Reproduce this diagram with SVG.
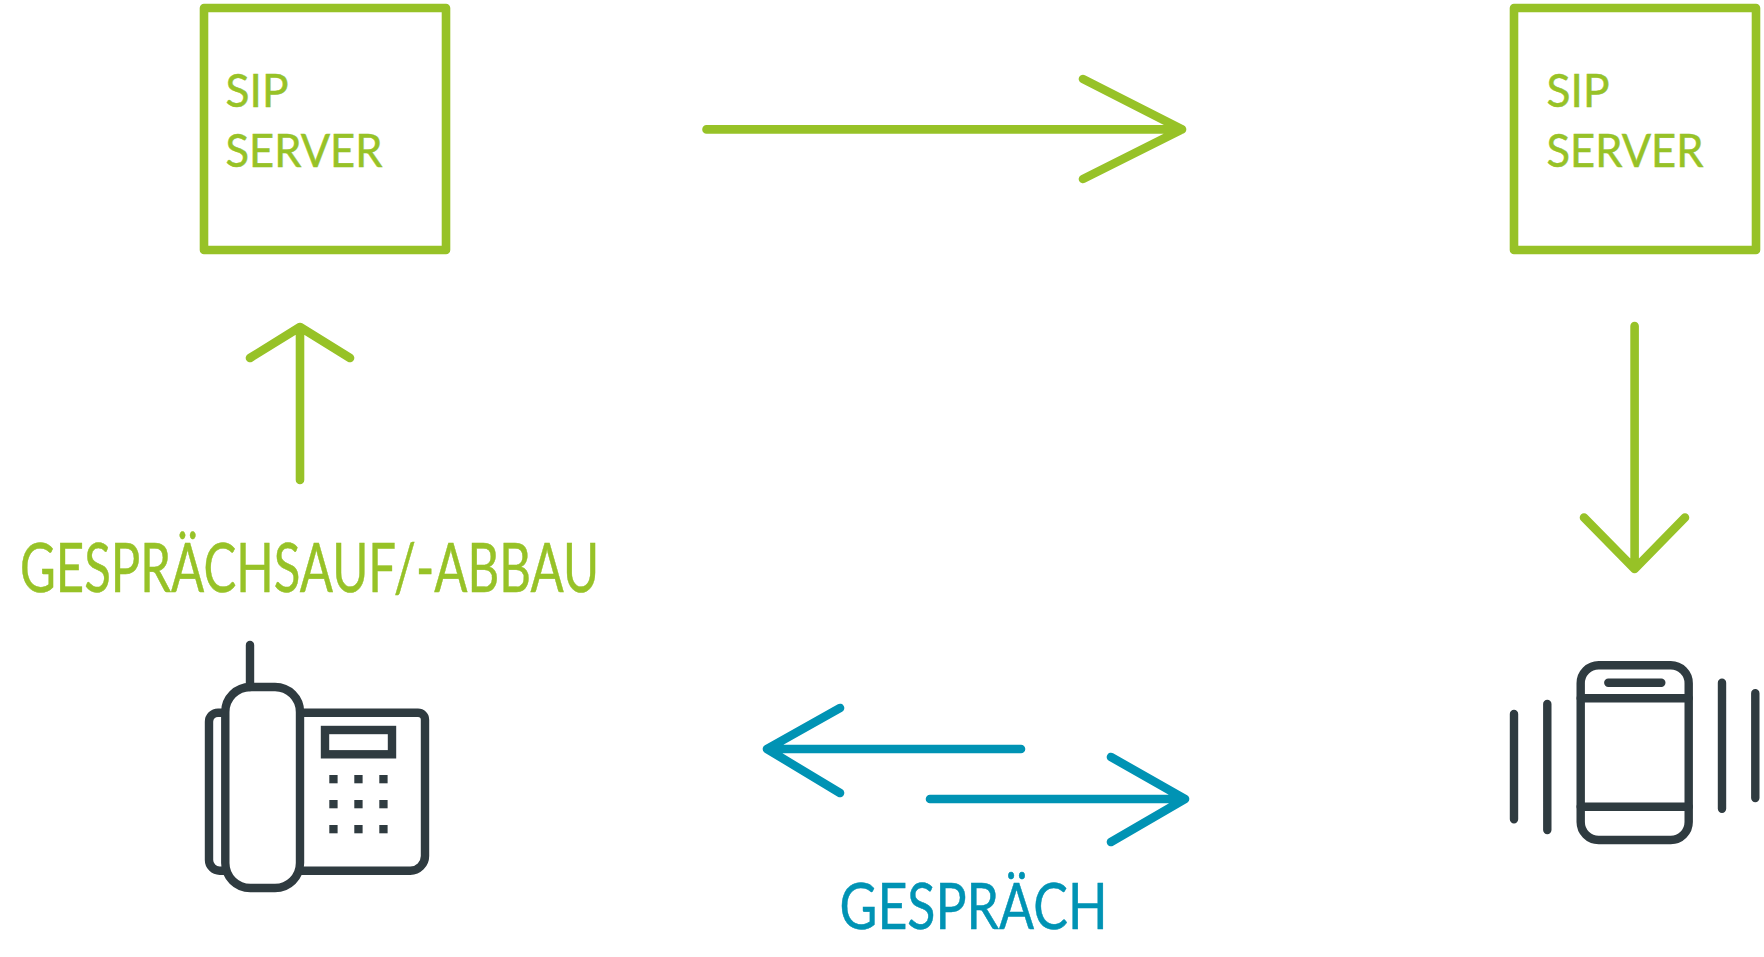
<svg xmlns="http://www.w3.org/2000/svg" width="1764" height="957" viewBox="0 0 1764 957">
<style>
.bg{fill:#fff}
.g{fill:none;stroke:#97c227;stroke-width:8.600;stroke-linecap:round;stroke-linejoin:round}
.t{fill:none;stroke:#0093b4;stroke-width:8.600;stroke-linecap:round;stroke-linejoin:round}
.d{fill:none;stroke:#2f3b40;stroke-width:8.400;stroke-linecap:round;stroke-linejoin:round}
.b{stroke-linecap:butt}
.k{fill:#2f3b40}
text{font-family:"Lato","Open Sans","Liberation Sans",sans-serif;stroke-width:.5}
.gt{fill:#97c227;stroke:#97c227}
.tt{fill:#0093b4;stroke:#0093b4}
.s{font-size:46px}
</style>
<rect class="bg" width="1764" height="957"/>
<g id="server-left">
<rect class="g" x="204" y="8" width="242" height="242"/>
<text class="gt s" x="225.500" y="107" textLength="63" lengthAdjust="spacingAndGlyphs">SIP</text>
<text class="gt s" x="225.500" y="167" textLength="157" lengthAdjust="spacingAndGlyphs">SERVER</text>
</g>
<g id="server-right">
<rect class="g" x="1514" y="8" width="242" height="242"/>
<text class="gt s" x="1546.500" y="107" textLength="63" lengthAdjust="spacingAndGlyphs">SIP</text>
<text class="gt s" x="1546.500" y="167" textLength="157" lengthAdjust="spacingAndGlyphs">SERVER</text>
</g>
<g id="desk-phone">
<path class="d" d="M250 645V687"/>
<path class="d b" d="M300 712.700H418a7 7 0 0 1 7 7V856a14.700 14.700 0 0 1-14.700 14.700H296M226 712.700H218a9 9 0 0 0-9 9V860a10.700 10.700 0 0 0 10.700 10.700H228"/>
<rect class="d" x="225.300" y="687" width="74.700" height="201" rx="25"/>
<rect class="d" style="stroke-linejoin:miter" x="325" y="730" width="67" height="24.300"/>
<g class="k">
<rect x="329.300" y="775" width="8.300" height="8.300"/><rect x="354.300" y="775" width="8.300" height="8.300"/><rect x="379.300" y="775" width="8.300" height="8.300"/>
<rect x="329.300" y="800" width="8.300" height="8.300"/><rect x="354.300" y="800" width="8.300" height="8.300"/><rect x="379.300" y="800" width="8.300" height="8.300"/>
<rect x="329.300" y="825" width="8.300" height="8.300"/><rect x="354.300" y="825" width="8.300" height="8.300"/><rect x="379.300" y="825" width="8.300" height="8.300"/>
</g>
</g>
<g id="mobile-phone">
<rect class="d" x="1580.700" y="665.300" width="108" height="174.700" rx="18"/>
<path class="d" d="M1608.300 682.700H1661.300M1580.700 698.300H1688.700M1580.700 806.700H1688.700"/>
<path class="d" d="M1514 714V819.300M1547.300 704V830M1722 682.700V808.700M1755.300 693.300V798"/>
</g>
<g id="connectors">
<path class="g" d="M706.500 129.400H1182M1083 79L1182 129.400L1083 179"/>
<path class="g" d="M300 480V327M250 358L300 327L350 358"/>
<path class="g" d="M1634.600 326V569M1584 517.500L1634.600 569L1685 517.500"/>
<path class="t" d="M1021 749H767M840 708L767 749L840 793"/>
<path class="t" d="M930 799H1185M1111 757L1185 799L1111 842"/>
</g>
<g id="labels">
<text class="gt" x="20" y="592" font-size="67" textLength="579" lengthAdjust="spacingAndGlyphs">GESPRÄCHSAUF/-ABBAU</text>
<text class="tt" x="839.500" y="929" font-size="63" textLength="268" lengthAdjust="spacingAndGlyphs">GESPRÄCH</text>
</g>
</svg>
